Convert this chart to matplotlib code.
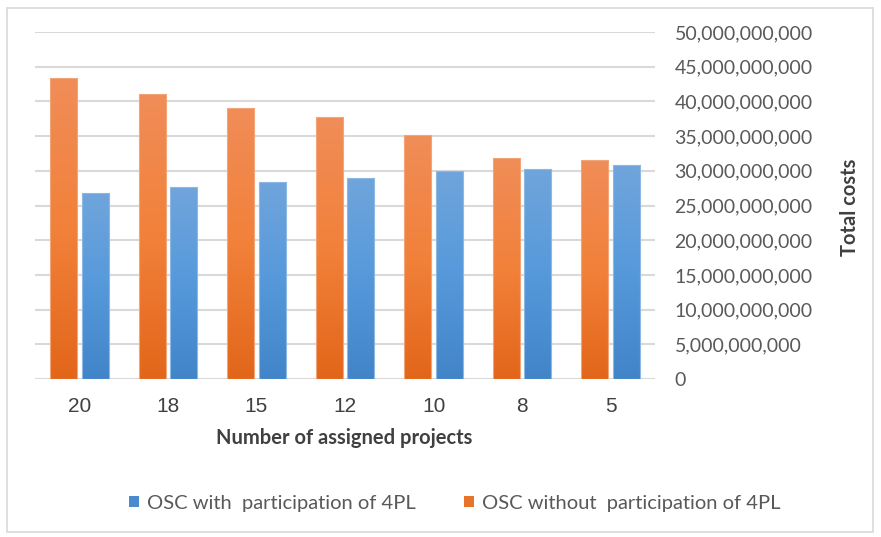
import numpy as np
import matplotlib
matplotlib.use('Agg')
from matplotlib import pyplot as plt
from matplotlib.patches import Patch, Rectangle
from matplotlib.colors import LinearSegmentedColormap
from matplotlib.ticker import FuncFormatter

plt.rcParams['font.family'] = ['Lato', 'DejaVu Sans']

projects = ['20', '18', '15', '12', '10', '8', '5']
with_4pl = [26.8e9, 27.6e9, 28.4e9, 29.0e9, 30.0e9, 30.3e9, 30.8e9]
without_4pl = [43.3e9, 41.0e9, 39.1e9, 37.7e9, 35.1e9, 31.9e9, 31.6e9]

orange_grad = LinearSegmentedColormap.from_list('og', ['#E2661A', '#F2813A', '#F08D58'])
blue_grad = LinearSegmentedColormap.from_list('bg', ['#4185C8', '#5699DB', '#70A5DB'])

fig = plt.figure(figsize=(8.81, 5.37), dpi=100)
ax = fig.add_axes([35 / 881, 1 - 379 / 537, 620 / 881, 347 / 537])

x = np.arange(len(projects))
w = 0.305
grad = np.linspace(0, 1, 256).reshape(-1, 1)


def gradient_bars(xpos, vals, cmap, edge):
    bars = ax.bar(xpos, vals, w, color='none', edgecolor=edge, linewidth=0.8, zorder=3)
    for b in bars:
        x0, y0 = b.get_x(), b.get_y()
        im = ax.imshow(grad, cmap=cmap, aspect='auto', origin='lower',
                       extent=[x0, x0 + b.get_width(), y0, y0 + b.get_height()], zorder=2)
        im.set_clip_path(b)
    return bars


gradient_bars(x - 0.178, without_4pl, orange_grad, '#F3A57A')
gradient_bars(x + 0.178, with_4pl, blue_grad, '#8DB8E3')

ax.set_xlim(-0.5, len(projects) - 0.5)
ax.set_ylim(0, 50e9)
ax.set_yticks(np.arange(0, 50e9 + 1, 5e9))
ax.yaxis.set_major_formatter(FuncFormatter(lambda v, p: f'{int(v):,}'))
ax.yaxis.tick_right()
ax.set_xticks(x)
ax.set_xticklabels(projects, family='Liberation Sans')
ax.tick_params(axis='y', length=0, pad=14, labelsize=14, labelcolor='#595959')
ax.tick_params(axis='x', length=0, pad=13, labelsize=15, labelcolor='#404040')
ax.grid(axis='y', color='#D9D9D9', linewidth=1.5, zorder=0)
ax.set_axisbelow(True)
for s in ax.spines.values():
    s.set_visible(False)

fig.text(344 / 881, 1 - 438 / 537, 'Number of assigned projects', ha='center', va='center',
         fontsize=14.5, fontweight='bold', color='#404040')
fig.text(850 / 881, 1 - 207 / 537, 'Total costs', ha='center', va='center', rotation=90,
         fontsize=14.5, fontweight='bold', color='#404040')

handles = [Patch(facecolor='#4A8BD0', label='OSC with  participation of 4PL'),
           Patch(facecolor='#E8742C', label='OSC without  participation of 4PL')]
fig.legend(handles=handles, loc='center', bbox_to_anchor=(455 / 881, 1 - 503 / 537), ncol=2,
           frameon=False, fontsize=14.5, handlelength=0.5, handleheight=0.5, handletextpad=0.4,
           columnspacing=2.4, labelcolor='#595959')

fig.patches.append(Rectangle((7 / 881, 5 / 537), 866 / 881, 524 / 537, transform=fig.transFigure,
                             fill=False, edgecolor='#D9D9D9', linewidth=1.2))

fig.savefig('out.png', dpi=100)
